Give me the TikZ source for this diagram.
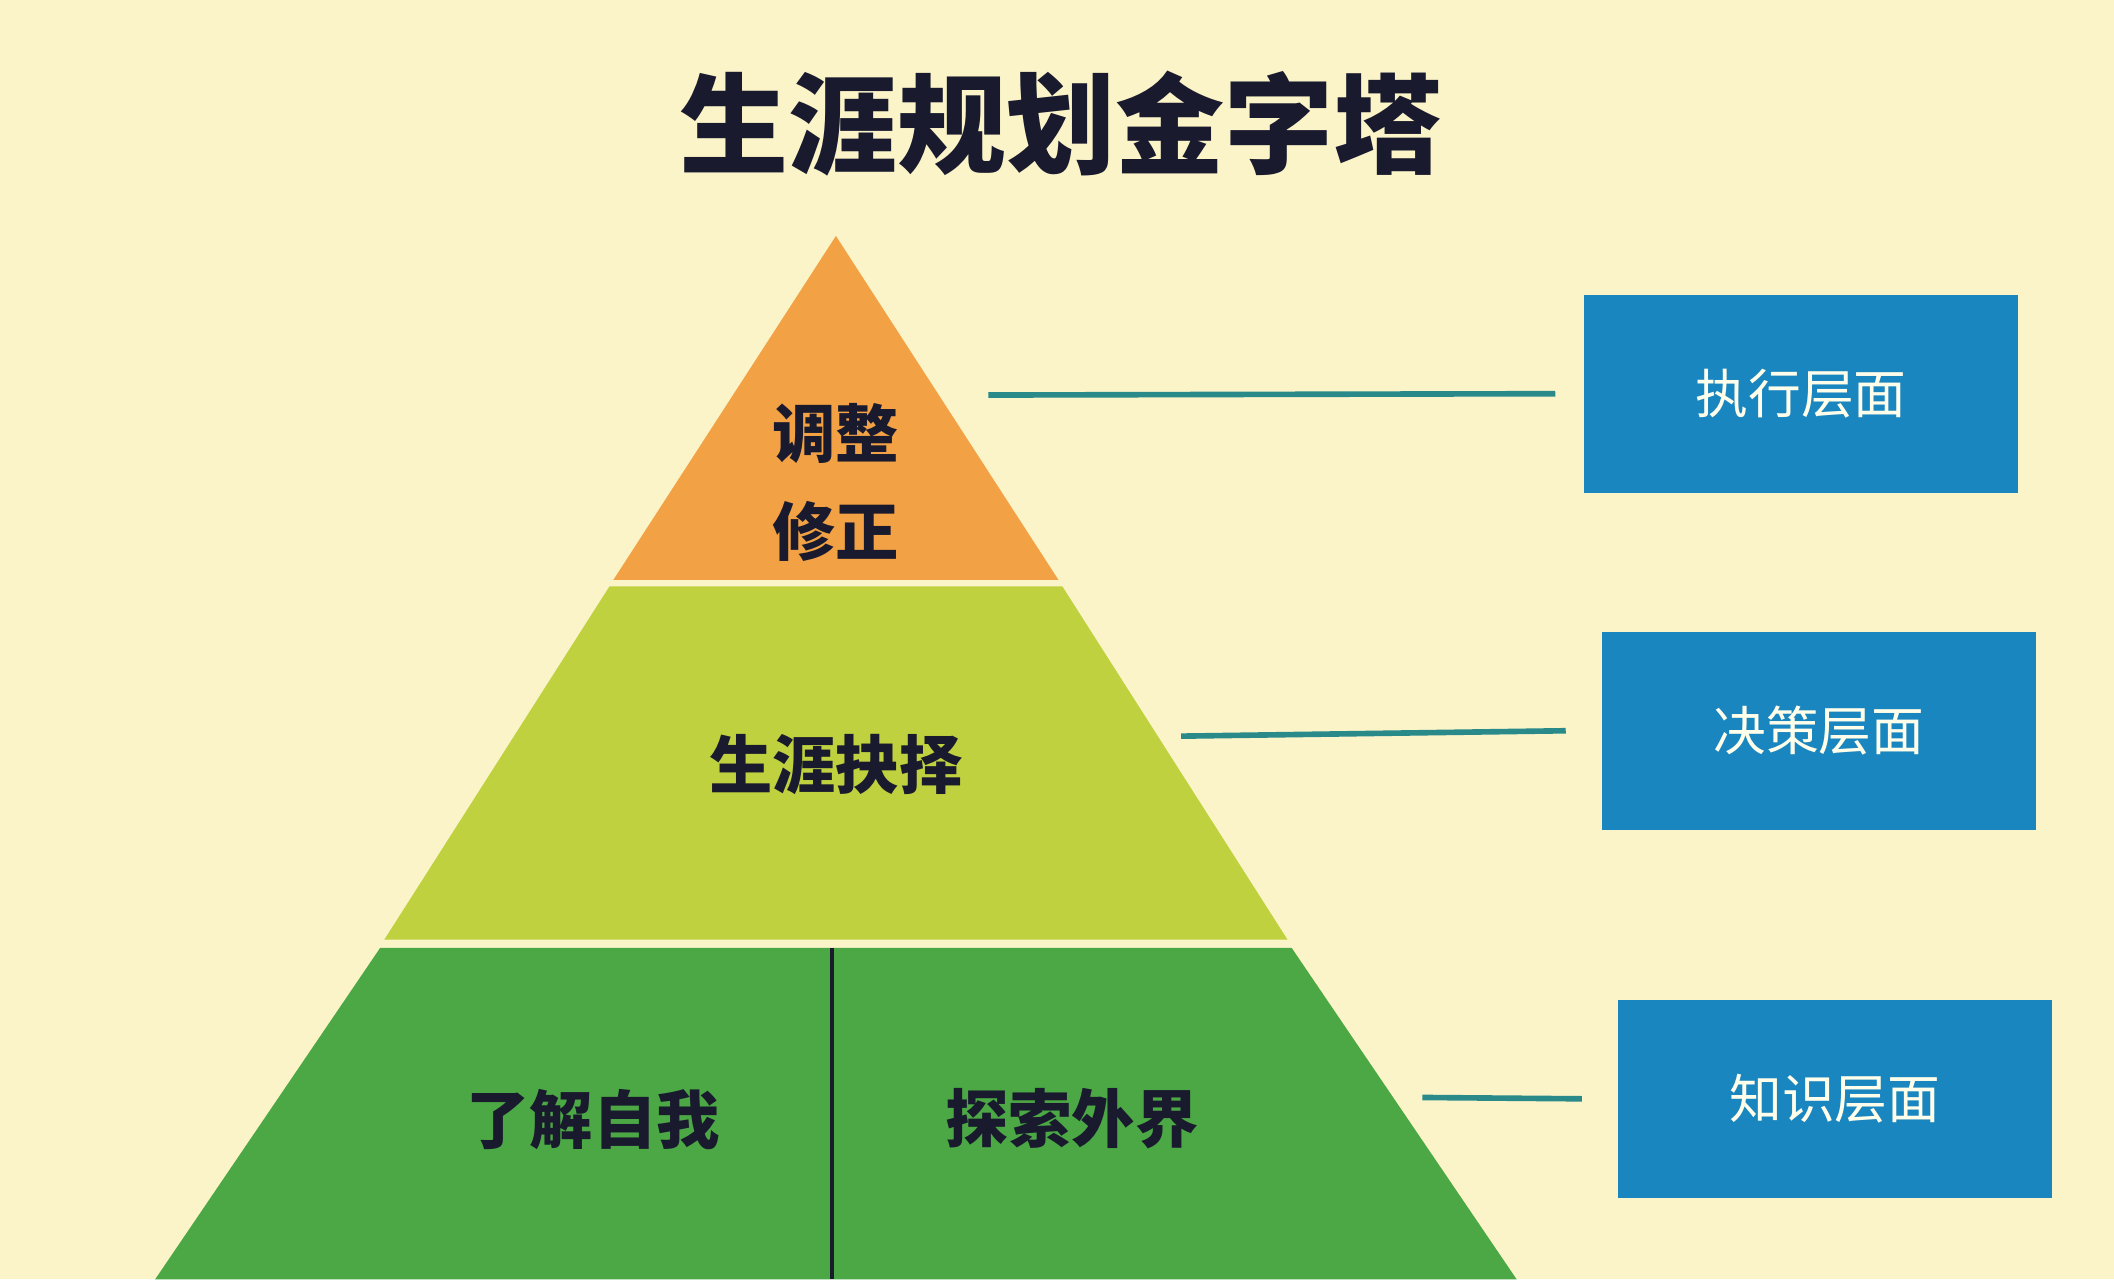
\documentclass[tikz,border=0pt]{standalone}
\usepackage{fontspec}
\newfontfamily\cjk{Noto Sans CJK SC}
\usetikzlibrary{positioning}
\definecolor{bgcol}{HTML}{FBF4C9}
\definecolor{topcol}{HTML}{F2A244}
\definecolor{midcol}{HTML}{BFD13E}
\definecolor{lowcol}{HTML}{4BA845}
\definecolor{boxcol}{HTML}{1A86C0}
\definecolor{linkcol}{HTML}{2A8A8A}
\definecolor{inkcol}{HTML}{1A1A2E}

\begin{document}
\begin{tikzpicture}[x=0.01348cm, y=-0.01348cm]
	\tikzstyle{level}=[font=\cjk\bfseries\fontsize{18}{26}\selectfont, text=inkcol, align=center]
	\tikzstyle{tag}=[fill=boxcol, text=white!92!yellow, minimum width=4.34cm, minimum height=1.98cm, font=\cjk\fontsize{15}{18}\selectfont]
	\tikzstyle{link}=[linkcol, line width=1.6pt]
	\fill[bgcol] (0,0) rectangle (1568,949);
	\useasboundingbox (0,0) rectangle (1568,949);
	% pyramid layers
	\fill[topcol] (620,175) -- (785,430) -- (455,430) -- cycle;
	\fill[midcol] (452,435) -- (788,435) -- (955,697) -- (285,697) -- cycle;
	\fill[lowcol] (282,703) -- (958,703) -- (1125,949) -- (115,949) -- cycle;
	\draw[inkcol, line width=1.2pt] (617,703) -- (617,949);
	\node[font=\cjk\bfseries\fontsize{31}{36}\selectfont, text=inkcol] (title) at (787,92) {生涯规划金字塔};
	\node[level] (adjust) at (620,358) {调整\\[2pt]修正};
	\node[level] (choice) at (620,567) {生涯抉择};
	\node[level] (self)   at (440,830) {了解自我};
	\node[level] (world)  at (795,830) {探索外界};
	\node[tag] (exec) at (1336,292) {执行层面};
	\node[tag] (decide) at (1349,542) {决策层面};
	\node[tag] (know) at (1361,815) {知识层面};
	\coordinate (p1) at (733,293);
	\coordinate (p2) at (876,546);
	\coordinate (p3) at (1055,814);
	\draw[link] (p1) -- ([xshift=-8]exec.west);
	\draw[link] (p2) -- ([xshift=-10]decide.west);
	\draw[link] (p3) -- ([xshift=-10]know.west);
\end{tikzpicture}
\end{document}
